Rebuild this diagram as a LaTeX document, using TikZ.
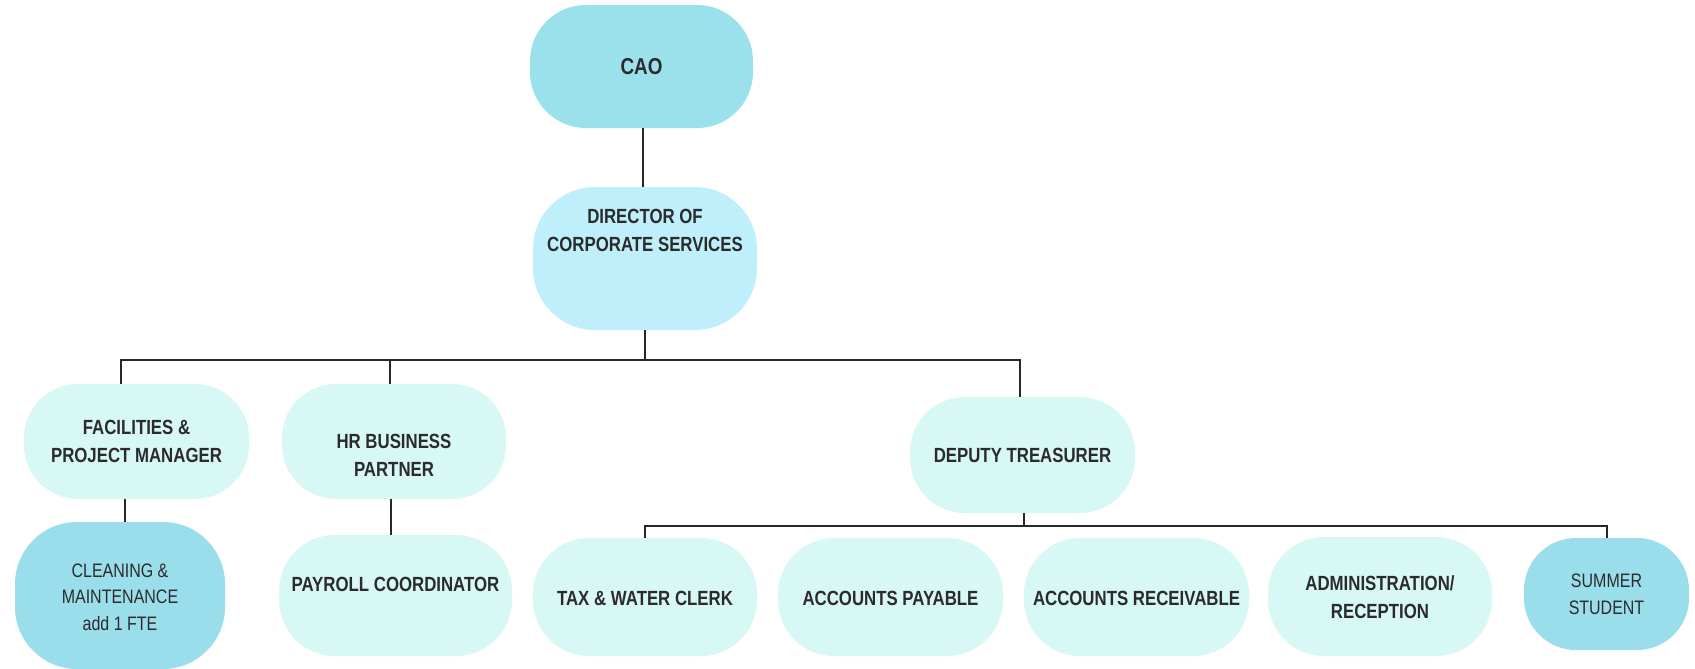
\documentclass[tikz,border=0pt]{standalone}
\usepackage{fontspec}
\setmainfont{Liberation Sans}[FakeStretch=0.82]
\definecolor{topblue}{RGB}{155,225,236}
\definecolor{dirblue}{RGB}{192,239,252}
\definecolor{mint}{RGB}{215,248,244}
\definecolor{staffblue}{RGB}{155,222,235}
\definecolor{ink}{RGB}{43,43,43}
\definecolor{wire}{RGB}{40,40,40}
\begin{document}
\begin{tikzpicture}[x=1pt,y=-1pt,
  unit/.style={draw=none, inner sep=0pt, rounded corners=#1},
  unit/.default=54,
  lbl/.style={align=center, text=ink, inner sep=0pt,
    font=\bfseries\fontsize{20.5}{28}\selectfont},
  lite/.style={align=center, text=ink, inner sep=0pt,
    font=\fontsize{19.5}{26.5}\selectfont},
  link/.style={draw=wire, line width=2pt}]
\useasboundingbox[fill=white] (0,0) rectangle (1695,669);

% boxes
\node[unit=56, fill=topblue, minimum width=223, minimum height=123] (cao) at (641.5,66.5) {};
\node[unit=62, fill=dirblue, minimum width=224, minimum height=143] (dir) at (645,258.5) {};
\node[unit=54, fill=mint, minimum width=225, minimum height=115] (fac) at (136.5,441.5) {};
\node[unit=54, fill=mint, minimum width=224, minimum height=115] (hr) at (394,441.5) {};
\node[unit=55, fill=mint, minimum width=225, minimum height=116] (dep) at (1022.5,455) {};
\node[unit=62, fill=staffblue, minimum width=210, minimum height=147] (cle) at (120,595.5) {};
\node[unit=56, fill=mint, minimum width=233, minimum height=121] (pay) at (395.5,595.5) {};
\node[unit=56, fill=mint, minimum width=224, minimum height=118] (tax) at (645,597) {};
\node[unit=56, fill=mint, minimum width=225, minimum height=118] (ap) at (890.5,597) {};
\node[unit=56, fill=mint, minimum width=225, minimum height=118] (ar) at (1136.5,597) {};
\node[unit=56, fill=mint, minimum width=224, minimum height=119] (adm) at (1380,596.5) {};
\node[unit=52, fill=staffblue, minimum width=165, minimum height=112] (sum) at (1606.5,594) {};

% labels
\node[lbl, font=\bfseries\fontsize{23}{28}\selectfont] (cao-t) at (641.5,67) {CAO};
\node[lbl] (dir-t) at (645,230) {DIRECTOR OF\\CORPORATE SERVICES};
\node[lbl] (fac-t) at (136.5,441) {FACILITIES \&\\PROJECT MANAGER};
\node[lbl] (hr-t) at (394,455.5) {HR BUSINESS\\PARTNER};
\node[lbl] (dep-t) at (1022.5,455) {DEPUTY TREASURER};
\node[lite] (cle-t) at (120,597) {CLEANING \&\\MAINTENANCE\\add 1 FTE};
\node[lbl] (pay-t) at (395.5,584) {PAYROLL COORDINATOR};
\node[lbl] (tax-t) at (645,598) {TAX \& WATER CLERK};
\node[lbl] (ap-t) at (890.5,598) {ACCOUNTS PAYABLE};
\node[lbl] (ar-t) at (1136.5,598) {ACCOUNTS RECEIVABLE};
\node[lbl] (adm-t) at (1380,597.5) {ADMINISTRATION/\\RECEPTION};
\node[lite] (sum-t) at (1606.5,594.5) {SUMMER\\STUDENT};

% connectors
\coordinate (bus) at (645,360);
\coordinate (bus2) at (1024,526);
\draw[link] ([xshift=1.5]cao.south) -- ([xshift=-2]dir.north);
\draw[link] (dir.south) -- (bus);
\draw[link] (bus) -| ([xshift=-15.5]fac.north);
\draw[link] (bus) -| ([xshift=-4]hr.north);
\draw[link] (bus) -| ([xshift=-2.5]dep.north);
\draw[link] ([xshift=-11.5]fac.south) -- ([xshift=5]cle.north);
\draw[link] ([xshift=-3]hr.south) -- ([xshift=-4.5]pay.north);
\draw[link] ([xshift=1.5]dep.south) -- (bus2);
\draw[link] (bus2) -| (tax.north);
\draw[link] (bus2) -| (sum.north);
\end{tikzpicture}
\end{document}
